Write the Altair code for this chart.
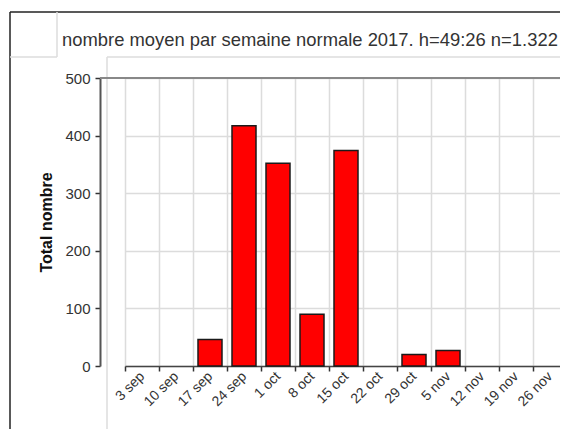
import altair as alt
import pandas as pd

weeks = ["3 sep", "10 sep", "17 sep", "24 sep", "1 oct", "8 oct", "15 oct",
         "22 oct", "29 oct", "5 nov", "12 nov", "19 nov", "26 nov"]
totals = [0, 0, 46, 417, 352, 90, 374, 0, 20, 27, 0, 0, 0]
y_ticks = [0, 100, 200, 300, 400, 500]
title_text = "nombre moyen par semaine normale 2017. h=49:26 n=1.322"

df = pd.DataFrame({"semaine": weeks, "total": totals})
one = pd.DataFrame({"k": [0]})

FONT = "Liberation Sans"

bars = alt.Chart(df).transform_filter("datum.total > 0").mark_bar(
    width=24, color="#ff0000", stroke="#1a1a1a", strokeWidth=1.5
).encode(
    x=alt.X("semaine:N", sort=weeks,
            scale=alt.Scale(domain=weeks, range=[25, 467], paddingInner=0, paddingOuter=0),
            axis=alt.Axis(title=None, labelAngle=-45, labelAlign="right", labelBaseline="middle",
                          labelPadding=3, tickBand="extent", grid=True, gridColor="#dcdcdc",
                          gridWidth=1.5, tickSize=5, tickColor="#333", tickWidth=1.5,
                          domainColor="#444", domainWidth=1.5, labelFont=FONT,
                          labelFontSize=14, labelColor="#333", labelOverlap=False)),
    y=alt.Y("total:Q", scale=alt.Scale(domain=[0, 500], nice=False),
            axis=alt.Axis(title="Total nombre", values=y_ticks, grid=True, gridColor="#dcdcdc",
                          gridWidth=1.5, tickSize=5, tickColor="#333", tickWidth=1.5,
                          domainColor="#555", domainWidth=2, labelFont=FONT, labelFontSize=15,
                          labelColor="#333", labelPadding=5, titleFont=FONT, titleFontSize=16,
                          titleFontWeight="bold", titleColor="#111", titlePadding=10)),
)

# top frame line of the plot (at 500)
top_line = alt.Chart(one).mark_rule(color="#888", strokeWidth=2).encode(
    x=alt.value(0), x2=alt.value(460), y=alt.value(0))

# chart title as a text mark placed in the title cell
title = alt.Chart(one).mark_text(
    text=title_text, align="left", baseline="alphabetic", font=FONT, fontSize=18.4, color="#333"
).encode(x=alt.value(-38), y=alt.value(-32))

# surrounding page/table decoration
frame_dark = alt.Chart(one).mark_rule(color="#222", strokeWidth=1.5)
frame_light = alt.Chart(one).mark_rule(color="#dddddd", strokeWidth=1.5)
decor = [
    frame_dark.encode(x=alt.value(-90), x2=alt.value(460), y=alt.value(-66)),
    frame_dark.encode(x=alt.value(-90), y=alt.value(-66), y2=alt.value(351)),
    frame_light.encode(x=alt.value(-43), y=alt.value(-66), y2=alt.value(-21)),
    frame_light.encode(x=alt.value(-90), x2=alt.value(-43), y=alt.value(-21)),
    frame_light.encode(x=alt.value(7), x2=alt.value(460), y=alt.value(-21)),
    frame_light.encode(x=alt.value(7), y=alt.value(-21), y2=alt.value(351)),
]

chart = alt.layer(*decor, bars, top_line, title).properties(
    width=460, height=288,
    padding={"left": 92, "top": 70, "right": 0, "bottom": 63},
    autosize=alt.AutoSizeParams(type="none"),
).configure_view(stroke=None)

chart.save("out.html", embed_options={"renderer": "svg", "actions": False})
